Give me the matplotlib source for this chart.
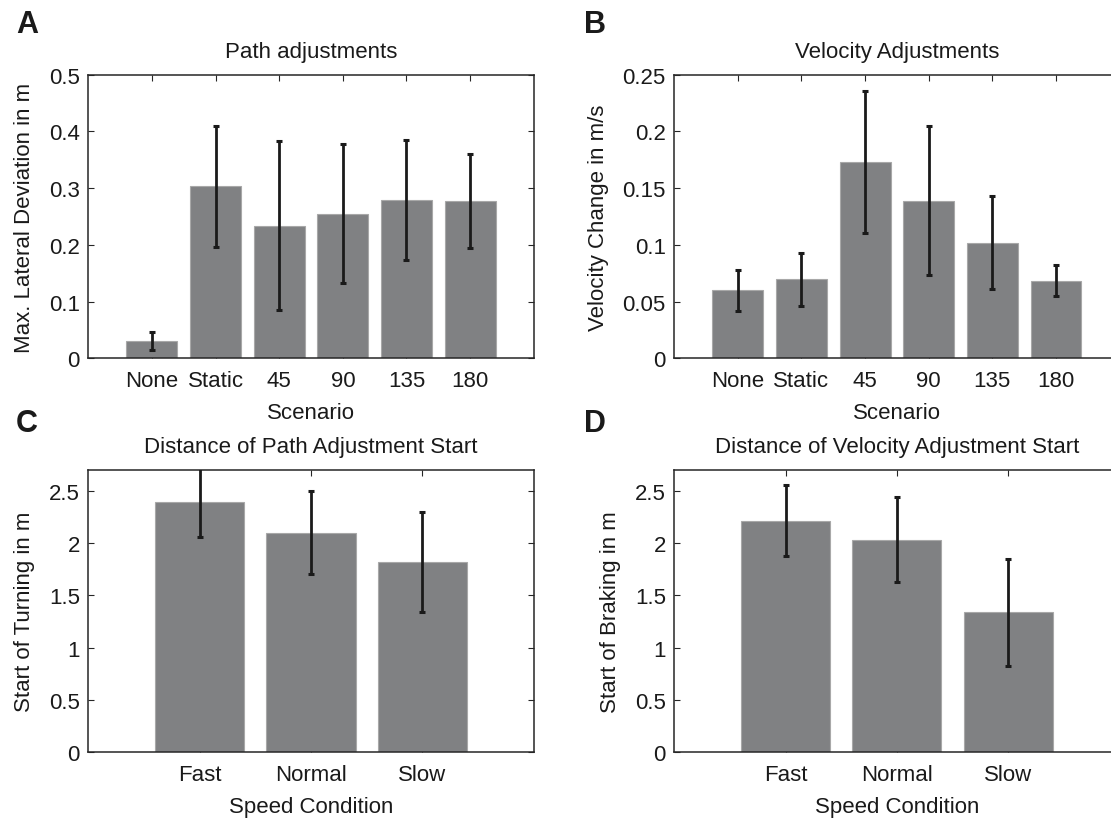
import matplotlib
matplotlib.use("Agg")
import matplotlib.pyplot as plt
import numpy as np

plt.rcParams['font.family'] = ['Liberation Sans', 'DejaVu Sans']

# ---- data ----
scenarios = ["None", "Static", "45", "90", "135", "180"]
path_dev_mean = [0.031, 0.303, 0.234, 0.255, 0.279, 0.278]
path_dev_sd = [0.016, 0.106, 0.149, 0.122, 0.106, 0.083]

vel_change_mean = [0.060, 0.0695, 0.173, 0.139, 0.102, 0.0685]
vel_change_sd = [0.018, 0.023, 0.0625, 0.066, 0.041, 0.014]

speeds = ["Fast", "Normal", "Slow"]
turn_start_mean = [2.39, 2.10, 1.82]
turn_start_sd = [0.33, 0.395, 0.476]

brake_start_mean = [2.217, 2.035, 1.338]
brake_start_sd = [0.342, 0.409, 0.511]

W, H = 1111, 820
fig = plt.figure(figsize=(W / 100, H / 100), dpi=100)

BAR = "#808183"
EDGE = "#a8a8a8"
ERR = "#1a1a1a"
AX = "#262626"
FS = 16


def px_axes(left, top, right, bottom):
    return fig.add_axes([left / W, 1 - bottom / H, (right - left) / W, (bottom - top) / H])


def panel(ax, labels, means, sds, ylim, yticks, ytl, title, xlabel, ylabel):
    x = np.arange(1, len(labels) + 1)
    ax.bar(x, means, width=0.8, color=BAR, edgecolor=EDGE, linewidth=0.8, zorder=2)
    ax.errorbar(x, means, yerr=sds, fmt="none", ecolor=ERR, elinewidth=2.0,
                capsize=2.4, capthick=2.2, zorder=3, clip_on=True)
    ax.set_xlim(0, len(labels) + 1)
    ax.set_ylim(*ylim)
    ax.set_xticks(x)
    ax.set_xticklabels(labels)
    ax.set_yticks(yticks)
    ax.set_yticklabels(ytl)
    ax.tick_params(direction="in", length=4, width=0.8, color=AX, labelsize=FS,
                   top=True, right=True, labelcolor="#1a1a1a")
    ax.tick_params(axis="x", pad=8.5)
    ax.tick_params(axis="y", pad=6)
    for s in ax.spines.values():
        s.set_color(AX)
        s.set_linewidth(1.1)
    ax.set_title(title, fontsize=FS, pad=13, color="#1a1a1a")
    ax.set_xlabel(xlabel, fontsize=FS, labelpad=7.5, color="#1a1a1a")
    ax.set_ylabel(ylabel, fontsize=FS, labelpad=10, color="#1a1a1a")


axA = px_axes(88.3, 75.7, 533.7, 359.3)
panel(axA, scenarios, path_dev_mean, path_dev_sd, (0, 0.5),
      [0, 0.1, 0.2, 0.3, 0.4, 0.5], ["0", "0.1", "0.2", "0.3", "0.4", "0.5"],
      "Path adjustments", "Scenario", "Max. Lateral Deviation in m")

axB = px_axes(674.2, 75.7, 1119.6, 359.3)
panel(axB, scenarios, vel_change_mean, vel_change_sd, (0, 0.25),
      [0, 0.05, 0.1, 0.15, 0.2, 0.25], ["0", "0.05", "0.1", "0.15", "0.2", "0.25"],
      "Velocity Adjustments", "Scenario", "Velocity Change in m/s")

axC = px_axes(88.3, 471, 533.7, 753.3)
panel(axC, speeds, turn_start_mean, turn_start_sd, (0, 2.7),
      [0, 0.5, 1, 1.5, 2, 2.5], ["0", "0.5", "1", "1.5", "2", "2.5"],
      "Distance of Path Adjustment Start", "Speed Condition", "Start of Turning in m")

axD = px_axes(674.2, 471, 1119.6, 753.3)
panel(axD, speeds, brake_start_mean, brake_start_sd, (0, 2.7),
      [0, 0.5, 1, 1.5, 2, 2.5], ["0", "0.5", "1", "1.5", "2", "2.5"],
      "Distance of Velocity Adjustment Start", "Speed Condition", "Start of Braking in m")

for letter, (px, py) in {"A": (16, 33), "B": (584, 33), "C": (16, 432), "D": (584, 432)}.items():
    fig.text(px / W, 1 - py / H, letter, fontsize=22, fontweight="bold",
             ha="left", va="baseline", color="#1a1a1a")

fig.savefig("out.png", dpi=100)
